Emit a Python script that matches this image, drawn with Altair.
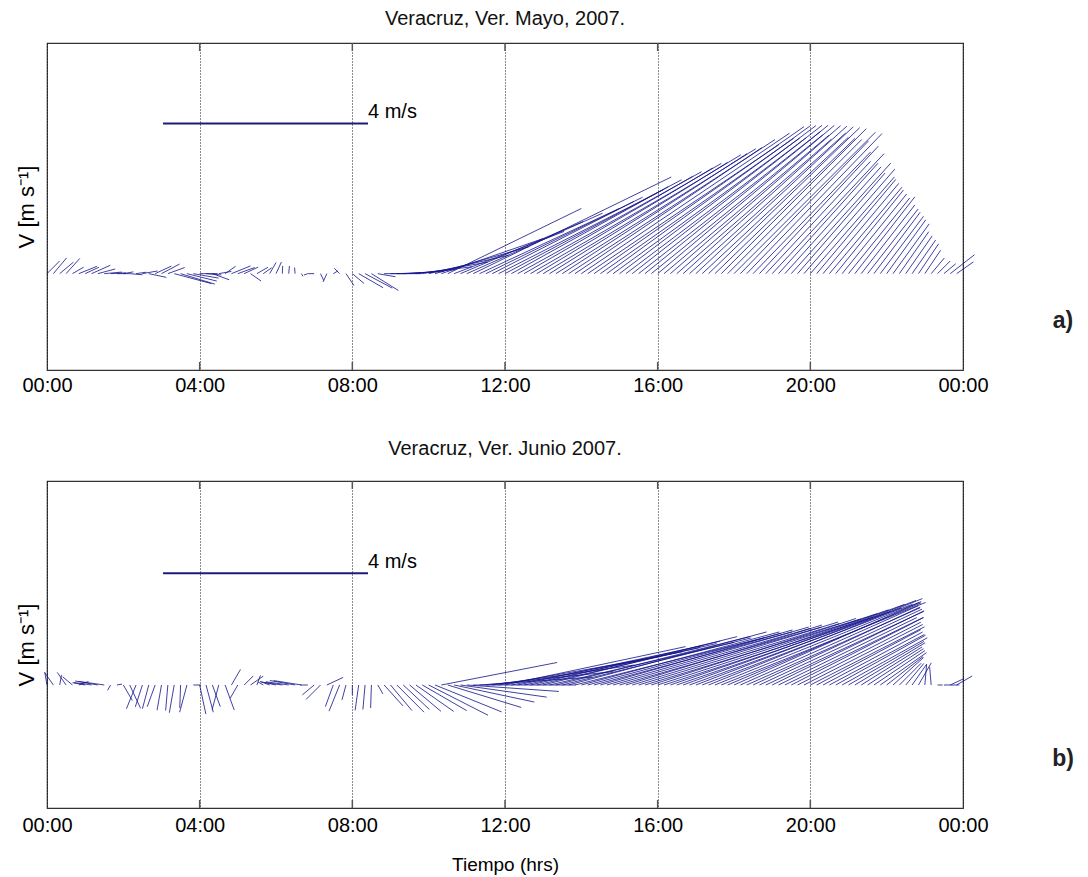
import numpy as np
import pandas as pd
import altair as alt

# ---------------- data (10-minute samples, speed m/s, direction deg from east, CCW) ----
may_speed = [
    0.35, 0.40, 0.35, 0.40, 0.25, 0.38, 0.30, 0.40, 0.35, 0.35,
    0.30, 0.25, 0.20, 0.25, 0.20, 0.30, 0.35, 0.35, 0.40, 0.35,
    0.75, 0.70, 0.60, 0.50, 0.35, 0.30, 0.35, 0.25, 0.25, 0.40,
    0.35, 0.30, 0.25, 0.25, 0.20, 0.25, 0.25, 0.15, 0.15, 0.12,
    0.06, 0.08, 0.12, 0.15, 0.18, 0.10, 0.15, 0.28, 0.30, 0.55,
    0.60, 0.62, 0.35, 0.45, 0.60, 0.70, 0.80, 0.90, 1.10, 1.30,
    1.60, 1.90, 2.10, 2.90, 2.30, 2.60, 2.90, 4.30, 3.00, 3.40,
    3.10, 3.60, 3.90, 3.50, 4.10, 3.80, 4.30, 4.00, 4.50, 4.10,
    4.60, 4.30, 4.80, 4.40, 4.90, 4.50, 5.00, 4.60, 4.90, 4.50,
    4.80, 4.40, 4.70, 4.50, 4.60, 4.30, 4.50, 4.20, 4.40, 4.00,
    4.30, 4.10, 4.20, 3.90, 4.10, 3.80, 4.00, 3.70, 3.90, 3.60,
    3.80, 3.30, 3.40, 3.00, 3.20, 2.90, 2.80, 2.90, 2.60, 2.70,
    2.50, 2.40, 2.30, 2.20, 2.10, 2.00, 1.90, 1.90, 1.70, 1.60,
    1.50, 1.40, 1.30, 1.20, 1.00, 0.90, 0.80, 0.70, 0.55, 0.40,
    0.35, 0.30, 0.60, 0.40,
]
may_dir = [
    45, 50, 40, 48, 30, 22, 25, 24, 15, 5,
    3, 0, 10, -5, 8, 10, -12, 25, 28, 20,
    -15, -17, -14, -10, 0, -5, -20, 10, 35, 22,
    20, 25, -35, 30, 35, 60, 65, 88, 85, 95,
    -60, 200, 180, -65, -115, 30, 135, -56, -40, -30,
    -28, -32, -10, 0, 0, 2, 3, 5, 7, 10,
    13, 16, 19, 26, 21, 23, 24, 26, 25, 26,
    27, 27, 28, 29, 29, 30, 30, 31, 31, 32,
    32, 33, 33, 34, 34, 34, 35, 35, 36, 36,
    37, 37, 38, 38, 39, 39, 40, 40, 41, 41,
    42, 42, 43, 43, 44, 44, 45, 45, 45, 46,
    46, 46, 47, 47, 47, 48, 48, 48, 49, 49,
    49, 50, 50, 50, 51, 51, 51, 52, 52, 52,
    53, 53, 54, 54, 55, 55, 55, 56, 56, 50,
    45, 40, 38, 35,
]
jun_speed = [
    0.25, 0.30, 0.20, 0.30, 0.25, 0.20, 0.25, 0.35, 0.45, 0.50,
    0.12, 0.10, 0.35, 0.50, 0.50, 0.45, 0.48, 0.45, 0.50, 0.50,
    0.55, 0.45, 0.55, 0.15, 0.58, 0.55, 0.45, 0.50, 0.52, 0.35,
    0.30, 0.25, 0.30, 0.20, 0.12, 0.20, 0.30, 0.35, 0.45, 0.50,
    0.55, 0.15, 0.30, 0.40, 0.35, 0.45, 0.55, 0.30, 0.20, 0.50,
    0.48, 0.45, 0.20, 0.55, 0.65, 0.75, 0.70, 0.80, 0.90, 1.00,
    1.30, 1.40, 2.30, 1.50, 1.60, 1.70, 1.80, 2.00, 2.20, 2.50,
    2.80, 3.20, 3.60, 3.40, 3.70, 3.50, 3.80, 3.60, 3.90, 3.70,
    3.90, 3.80, 4.00, 3.80, 4.00, 3.90, 4.00, 3.90, 4.10, 4.00,
    4.10, 4.00, 4.20, 4.10, 4.40, 4.20, 4.50, 4.30, 4.50, 4.40,
    4.60, 4.40, 4.60, 4.40, 4.50, 4.30, 4.30, 4.10, 4.00, 3.80,
    3.70, 3.60, 3.50, 3.40, 3.30, 3.00, 3.00, 2.90, 2.70, 2.60,
    2.50, 2.30, 2.20, 2.10, 2.00, 1.90, 1.70, 1.60, 1.40, 1.30,
    1.20, 1.10, 0.90, 0.80, 0.60, 0.55, 0.50, 0.50, 0.40, 0.35,
    0.10, 0.30, 0.30, 0.35,
]
jun_dir = [
    100, 125, 80, 125, 140, 20, 170, 172, 170, 172,
    -120, 10, -60, -65, -112, -108, -105, -110, -100, -95,
    -100, -92, -105, 0, -78, -75, -70, -105, -70, 60,
    -120, 45, 35, 70, 150, 160, 168, 172, 172, 170,
    171, 180, -140, -135, 25, -110, -112, -105, -90, -98,
    -95, -92, -60, -48, -50, -45, -43, -40, -35, -30,
    -27, -22, 11, -17, -12, -8, -4, 0, 4, 6,
    8, 10, 12, 11, 12, 12, 13, 13, 14, 13,
    14, 14, 15, 14, 15, 15, 15, 16, 16, 16,
    16, 17, 17, 17, 17, 18, 18, 18, 19, 19,
    20, 20, 21, 21, 22, 22, 22, 23, 24, 24,
    24, 25, 25, 25, 26, 26, 26, 27, 27, 27,
    27, 28, 28, 28, 29, 29, 30, 31, 32, 33,
    34, 35, 38, 42, 45, 50, 55, 60, 85, 95,
    0, 0, 25, 30,
]
tick_hours = [0, 4, 8, 12, 16, 20, 24]
inner_ticks = [4, 8, 12, 16, 20]
ref_speed = 4.0
ref_start = 3.04

# geometry of the stick plot
W, H = 916, 327
PX_PER_MS = 51.25
HOURS_PER_MS = PX_PER_MS / (W / 24.0)

STICK = "#14148c"
FONT = "Liberation Sans"


def panel(speed, direc, title, ydom, yref, tag, xtitle, toff, lpad):
    t = np.arange(len(speed)) / 6.0
    s = np.array(speed, dtype=float)
    d = np.radians(np.array(direc, dtype=float))
    df = pd.DataFrame({
        "t": t,
        "x2": t + s * np.cos(d) * HOURS_PER_MS,
        "y0": 0.0,
        "v": s * np.sin(d),
    })
    xax = alt.Axis(values=tick_hours, grid=True, gridDash=[1, 2], gridColor="#000000",
                   gridOpacity=0.9, ticks=False, domain=False, labelFlush=False,
                   labelFontSize=20, labelPadding=lpad,
                   labelExpr="(datum.value % 24 < 10 ? '0' : '') + (datum.value % 24) + ':00'",
                   title=xtitle, titleFontSize=19, titleFontWeight="normal", titlePadding=20)
    yax = alt.Axis(labels=False, ticks=False, domain=False, grid=False,
                   title="V [m s⁻¹]", titleFontSize=22, titleFontWeight="normal", titlePadding=9)
    X = alt.X("t:Q", scale=alt.Scale(domain=[0, 24], nice=False, zero=False), axis=xax)
    Y = alt.Y("y0:Q", scale=alt.Scale(domain=ydom, nice=False, zero=False), axis=yax)

    sticks = alt.Chart(df).mark_rule(color=STICK, strokeWidth=0.9, opacity=0.9).encode(
        x=X, x2="x2:Q", y=Y, y2="v:Q")

    tdf = pd.DataFrame({"t": inner_ticks, "y0": 0.0})
    ticks_top = alt.Chart(tdf).mark_rule(color="#555555", strokeWidth=1.5).encode(
        x=X, y=alt.value(0), y2=alt.value(8))
    ticks_bot = alt.Chart(tdf).mark_rule(color="#555555", strokeWidth=1.5).encode(
        x=X, y=alt.value(H - 8), y2=alt.value(H))

    rdf = pd.DataFrame({"t": [ref_start], "x2": [ref_start + ref_speed * HOURS_PER_MS],
                        "y0": [yref], "lab": ["4 m/s"]})
    ref_bar = alt.Chart(rdf).mark_rule(color="#1c1c78", strokeWidth=2).encode(
        x=X, x2="x2:Q", y=Y)
    ref_txt = alt.Chart(rdf).mark_text(align="left", baseline="alphabetic", dx=0, dy=-5,
                                       fontSize=20, font=FONT, color="#000000").encode(
        x=alt.X("x2:Q", scale=alt.Scale(domain=[0, 24], nice=False, zero=False), axis=xax),
        y=Y, text="lab:N")

    tag_df = pd.DataFrame({"lab": [tag]})
    tag_txt = alt.Chart(tag_df).mark_text(align="center", baseline="middle", fontSize=23,
                                          fontWeight="bold", font="Liberation Sans Narrow, Liberation Sans",
                                          color="#222222").encode(
        x=alt.value(1016), y=alt.value(278), text="lab:N")

    return alt.layer(ticks_top, ticks_bot, sticks, ref_bar, ref_txt, tag_txt).properties(
        width=W, height=H,
        title=alt.TitleParams(title, fontSize=20, fontWeight="normal", font=FONT,
                              anchor="middle", offset=toff, color="#111111"))


top = panel(may_speed, may_dir, "Veracruz, Ver. Mayo, 2007.", [-1.88, 4.50], 2.93, "a)", None, 13, 5)
bottom = panel(jun_speed, jun_dir, "Veracruz, Ver. Junio 2007.", [-2.40, 3.98], 2.18, "b)",
               "Tiempo (hrs)", 21, 7)

chart = alt.vconcat(top, bottom, spacing=42).properties(
    padding={"left": 6, "top": 0, "right": 5, "bottom": 0}
).configure_view(stroke="#333333", strokeWidth=1.2).configure_axis(
    labelFont=FONT, titleFont=FONT, labelColor="#000000", titleColor="#000000")

chart.save("out.html", embed_options={"renderer": "svg", "actions": False})
